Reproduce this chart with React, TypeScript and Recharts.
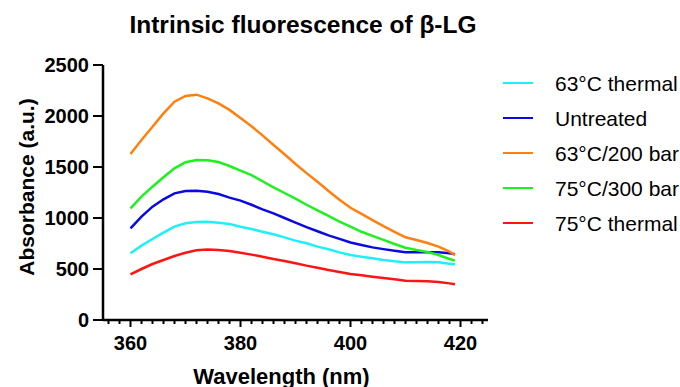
import React from "react";
import { LineChart, Line, XAxis, YAxis } from "recharts";

const wavelengths = [
  360, 362, 364, 366, 368, 370, 372, 374, 376, 378, 380, 382, 384, 386, 388,
  390, 392, 394, 396, 398, 400, 402, 404, 406, 408, 410, 412, 414, 416, 418, 419,
];

const thermal63 = [
  654, 729, 794, 856, 915, 948, 961, 964, 954, 941, 915, 892, 866, 840, 810,
  778, 752, 719, 693, 663, 637, 621, 605, 588, 575, 565, 565, 569, 565, 552, 546,
];
const untreated = [
  899, 1013, 1111, 1183, 1242, 1265, 1268, 1258, 1235, 1200, 1170, 1130, 1085, 1045, 1000,
  955, 910, 870, 830, 795, 760, 735, 712, 695, 680, 665, 663, 663, 663, 654, 644,
];
const bar200 = [
  1627, 1765, 1895, 2026, 2140, 2196, 2209, 2173, 2124, 2060, 1980, 1900, 1810, 1716, 1625,
  1530, 1440, 1355, 1265, 1180, 1100, 1040, 980, 920, 865, 811, 785, 755, 720, 670, 637,
];
const bar300 = [
  1095, 1209, 1307, 1399, 1487, 1546, 1569, 1565, 1549, 1510, 1465, 1420, 1360, 1300, 1245,
  1190, 1130, 1075, 1020, 965, 915, 865, 825, 785, 745, 708, 686, 667, 637, 598, 582,
];
const thermal75 = [
  448, 500, 549, 588, 627, 660, 683, 690, 686, 676, 660, 641, 621, 598, 578,
  556, 533, 513, 490, 471, 451, 438, 425, 412, 399, 386, 382, 379, 373, 359, 350,
];

const series = [
  { key: "t63", name: "63°C thermal", color: "#1ef0f5", values: thermal63 },
  { key: "untreated", name: "Untreated", color: "#0a0ae0", values: untreated },
  { key: "b200", name: "63°C/200 bar", color: "#ff8010", values: bar200 },
  { key: "b300", name: "75°C/300 bar", color: "#1ff01f", values: bar300 },
  { key: "t75", name: "75°C thermal", color: "#ff1414", values: thermal75 },
];

const yTicks = [0, 500, 1000, 1500, 2000, 2500];
const xTicks: number[] = [];
for (let v = 356; v <= 424; v += 2) xTicks.push(v);
const xMajor = [360, 380, 400, 420];

const data = wavelengths.map((w, i) => {
  const row: Record<string, number> = { w };
  series.forEach((s) => (row[s.key] = s.values[i]));
  return row;
});

const font = "'Liberation Sans', Arial, Helvetica, sans-serif";

const XTick = (props: any) => {
  const { x, y, payload } = props;
  const major = xMajor.includes(payload.value);
  return (
    <g>
      <line x1={x} y1={y} x2={x} y2={y + (major ? 7 : 4)} stroke="#000" strokeWidth={2} />
      {major && (
        <text x={x} y={y + 30} textAnchor="middle" fontSize={20} fontWeight="bold" fontFamily={font} fill="#000">
          {payload.value}
        </text>
      )}
    </g>
  );
};

export default function App() {
  return (
    <div style={{ position: "absolute", left: 0, top: 0, width: 680, height: 387, background: "#fff", fontFamily: font, overflow: "hidden" }}>
      <div style={{ position: "absolute", left: 0, width: 606, top: 12.5, lineHeight: 1, textAlign: "center", fontSize: 24.5, fontWeight: "bold" }}>
        Intrinsic fluorescence of β-LG
      </div>
      <LineChart width={680} height={387} data={data} margin={{ top: 65, right: 192, bottom: 0, left: 0 }}>
        <XAxis
          dataKey="w"
          type="number"
          domain={[355, 425]}
          ticks={xTicks}
          interval={0}
          height={67}
          tickSize={0}
          tickMargin={0}
          tickLine={false}
          axisLine={{ stroke: "#000", strokeWidth: 2.5 }}
          tick={<XTick />}
        />
        <YAxis
          type="number"
          domain={[0, 2500]}
          ticks={yTicks}
          width={103}
          tickSize={10}
          tickMargin={4}
          tickLine={{ stroke: "#000", strokeWidth: 2 }}
          axisLine={{ stroke: "#000", strokeWidth: 2.5 }}
          tick={{ fontSize: 20, fontWeight: "bold", fill: "#000", fontFamily: font }}
        />
        {series.map((s) => (
          <Line
            key={s.key}
            dataKey={s.key}
            name={s.name}
            stroke={s.color}
            strokeWidth={2.5}
            dot={false}
            type="linear"
            isAnimationActive={false}
          />
        ))}
      </LineChart>
      <div
        style={{
          position: "absolute",
          left: 26,
          top: 186.5,
          transform: "translate(-50%, -50%) rotate(-90deg)",
          whiteSpace: "nowrap",
          lineHeight: 1,
          fontSize: 21,
          fontWeight: "bold",
        }}
      >
        Absorbance (a.u.)
      </div>
      <div style={{ position: "absolute", left: 0, width: 563, top: 365.5, lineHeight: 1, textAlign: "center", fontSize: 22, fontWeight: "bold" }}>
        Wavelength (nm)
      </div>
      <div style={{ position: "absolute", left: 503, top: 65.5 }}>
        {series.map((s) => (
          <div key={s.key} style={{ display: "flex", alignItems: "center", height: 35 }}>
            <div style={{ width: 30, height: 2.5, background: s.color }} />
            <div style={{ marginLeft: 22, fontSize: 21, lineHeight: 1, whiteSpace: "nowrap" }}>{s.name}</div>
          </div>
        ))}
      </div>
    </div>
  );
}
